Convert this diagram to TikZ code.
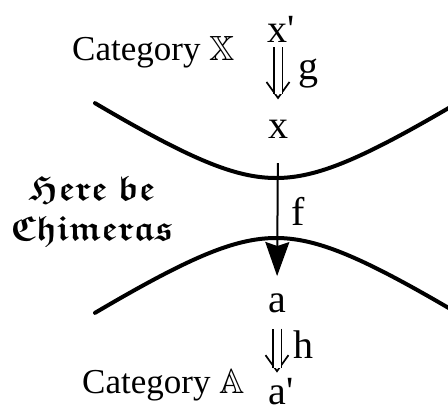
\documentclass[tikz,border=0pt]{standalone}
\usepackage{fontspec}
\setmainfont{Liberation Serif}
\usepackage{amssymb}
\usetikzlibrary{arrows.meta}
\newcommand{\frakfont}{\usefont{U}{euf}{b}{n}}

\begin{document}
\begin{tikzpicture}[x=1pt,y=-1pt,obj/.style={inner sep=0pt, anchor=base, font=\fontsize{40}{48}\selectfont},catname/.style={inner sep=0pt, anchor=base west, font=\fontsize{35}{42}\selectfont},lbl/.style={inner sep=0pt, anchor=west, font=\fontsize{40}{48}\selectfont},boundary/.style={line width=4pt, line cap=round, domain=95:452, samples=120},twoshaft/.style={double, double distance=7pt, line width=1.6pt},twohead/.style={draw=white, line width=1pt, -{Straight Barb[color=black, length=16pt, width=23pt, line width=1.7pt]}},map/.style={line width=2pt, -{Stealth[length=34pt,width=24pt,inset=4pt]}},blackletter/.style={align=center, inner sep=0pt, font=\fontsize{35}{40}\frakfont}]
\useasboundingbox (0,0) rectangle (448,408);
% the two boundaries
\draw[boundary] plot (\x,{233-10*sqrt(30.25+0.4225*((\x-276)/10)*((\x-276)/10))});
\draw[boundary] plot (\x,{183+10*sqrt(30.25+0.4225*((\x-276)/10)*((\x-276)/10))});
\node[catname] (catX) at (72,60) {Category $\mathbb{X}$};
\node[catname] (catA) at (82,393) {Category $\mathbb{A}$};
\node[blackletter] (chim) at (92,212) {Here\hspace{0.3em}be\\Chimeras};
\node[obj] (xp) at (281,42) {x\textquotesingle}; \node[obj] (x) at (278,138) {x};
\node[obj] (a) at (277,312) {a}; \node[obj] (ap) at (281,404) {a\textquotesingle};
\draw[twohead, shorten <=5pt, shorten >=20pt] (x.north |- xp.south) -- (x.north);
\draw[twoshaft, shorten <=5pt, shorten >=25pt] (x.north |- xp.south) -- (x.north) node[lbl, pos=.4, xshift=20pt] {g};
\draw[map, shorten <=25pt, shorten >=17pt] (x.south) -- (a.north) node[lbl, pos=.47, xshift=13pt] {f};
\draw[twohead, shorten <=16pt, shorten >=5pt] (a.south) -- (a.south |- ap.north);
\draw[twoshaft, shorten <=16pt, shorten >=10pt] (a.south) -- (a.south |- ap.north) node[lbl, midway, xshift=16pt] {h};
\end{tikzpicture}
\end{document}
